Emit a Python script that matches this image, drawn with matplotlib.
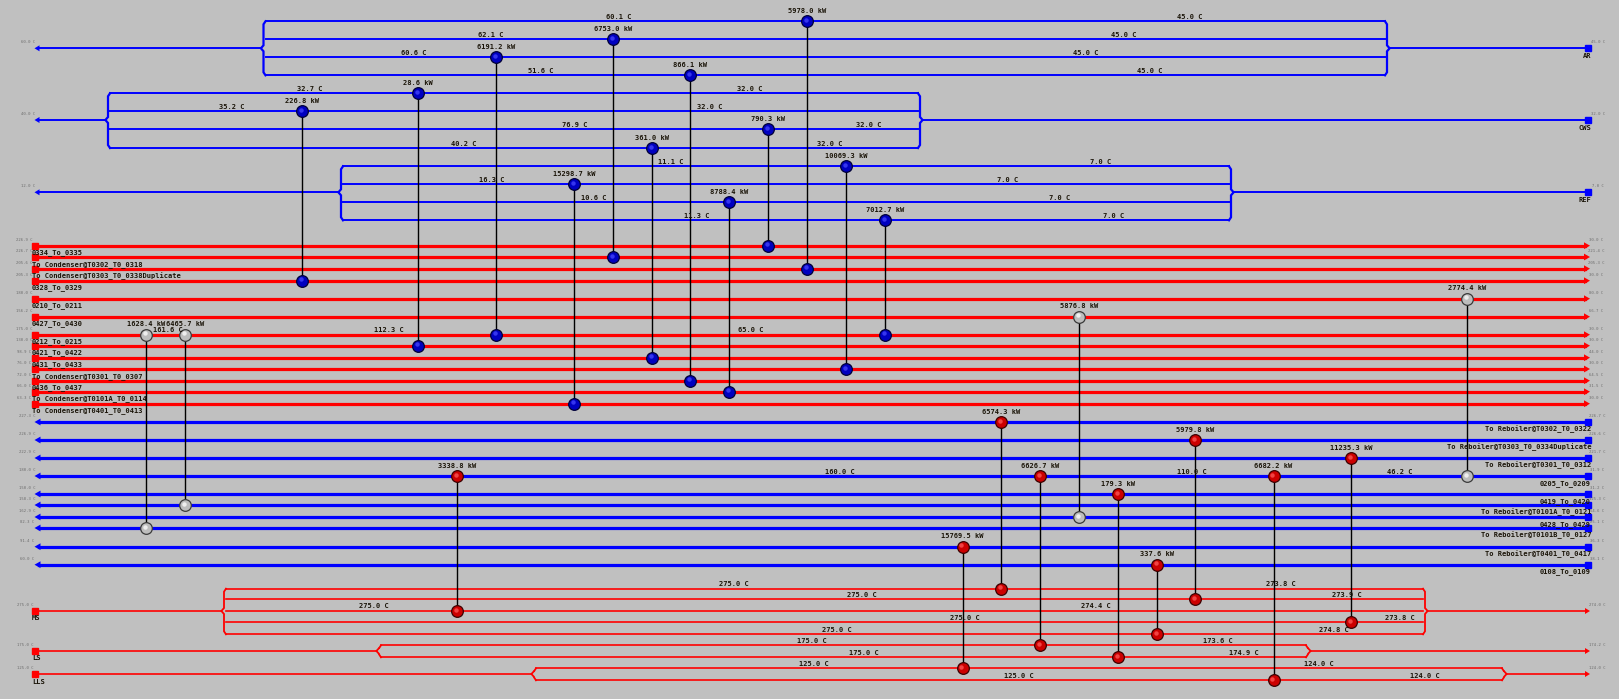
import matplotlib
matplotlib.use("Agg")
import matplotlib.pyplot as plt

BG = "#c0c0c0"
RED = "#ff0000"
BLUE = "#0000ff"
INK = "#1a1408"
GREY = "#6c6c6c"
FONT = "DejaVu Sans Mono"

# ---- data -------------------------------------------------------------
# hot process streams, top to bottom (supply on the left, target on the right)
hot_names = ["0334_To_0335", "To Condenser@T0302_T0_0318",
             "To Condenser@T0303_T0_0338Duplicate", "0328_To_0329",
             "0210_To_0211", "0427_To_0430", "0212_To_0215", "0421_To_0422",
             "0431_To_0433", "To Condenser@T0301_T0_0307", "0436_To_0437",
             "To Condenser@T0101A_T0_0114", "To Condenser@T0401_T0_0413"]
hot_supply = ["226.9 C", "226.7 C", "205.6 C", "205.3 C", "180.0 C", "156.2 C",
              "175.0 C", "130.0 C", "98.9 C", "76.0 C", "72.0 C", "66.0 C", "63.3 C"]
hot_target = ["30.0 C", "221.4 C", "205.3 C", "30.0 C", "80.0 C", "66.7 C",
              "30.0 C", "30.0 C", "44.0 C", "30.0 C", "64.5 C", "31.5 C", "30.0 C"]

# cold process streams, top to bottom (supply on the right, target on the left)
cold_names = ["To Reboiler@T0302_T0_0322", "To Reboiler@T0303_T0_0334Duplicate",
              "To Reboiler@T0301_T0_0312", "0205_To_0209", "0419_To_0420",
              "To Reboiler@T0101A_T0_0121", "0428_To_0429",
              "To Reboiler@T0101B_T0_0127", "To Reboiler@T0401_T0_0417",
              "0108_To_0109"]
cold_supply = ["226.7 C", "226.6 C", "221.7 C", "31.9 C", "31.2 C", "125.3 C",
               "54.6 C", "25.1 C", "36.3 C", "38.1 C"]
cold_target = ["227.3 C", "226.9 C", "222.9 C", "180.0 C", "150.0 C", "158.3 C",
               "162.9 C", "82.3 C", "91.4 C", "60.0 C"]

# utilities
cold_util_names = ["AR", "CWS", "REF"]
cold_util_supply = ["45.0 C", "32.0 C", "7.0 C"]
cold_util_target = ["60.0 C", "40.0 C", "12.0 C"]
hot_util_names = ["MS", "LS", "LLS"]
hot_util_supply = ["275.0 C", "175.0 C", "125.0 C"]
hot_util_target = ["274.0 C", "174.2 C", "124.0 C"]

# coolers, one per utility branch (branches top to bottom)
cooler_util = ["AR"] * 4 + ["CWS"] * 4 + ["REF"] * 4
cooler_hot = [2, 1, 6, 10, 7, 3, 0, 8, 9, 12, 11, 6]
cooler_duty = [5978.0, 6753.0, 6191.2, 866.1, 28.6, 226.8, 790.3, 361.0,
               10069.3, 15298.7, 8788.4, 7012.7]
cooler_outlet = ["60.1 C", "62.1 C", "60.6 C", "51.6 C", "32.7 C", "35.2 C",
                 "76.9 C", "40.2 C", "11.1 C", "16.3 C", "10.6 C", "11.3 C"]

# heaters, one per steam branch
heater_util = ["MS"] * 5 + ["LS"] * 2 + ["LLS"] * 2
heater_cold = [0, 1, 3, 2, 9, 3, 4, 8, 3]
heater_duty = [6574.3, 5979.8, 3338.8, 11235.3, 337.6, 6626.7, 179.3,
               15769.5, 6682.2]
heater_outlet = ["273.8 C", "273.9 C", "274.4 C", "273.8 C", "274.8 C",
                 "173.6 C", "174.9 C", "124.0 C", "124.0 C"]

# process to process exchangers
px_hot = [6, 6, 5, 4]
px_cold = [7, 5, 6, 3]
px_duty = [1628.4, 6465.7, 5876.8, 2774.4]

# intermediate temperatures
hot_mid_stream = [6, 6, 6]
hot_mid_temp = ["161.6 C", "112.3 C", "65.0 C"]
cold_mid_stream = [3, 3, 3]
cold_mid_temp = ["160.0 C", "110.0 C", "46.2 C"]

# ---- layout (pixels of the grid diagram) ------------------------------
W, H = 1619, 699
X_LEFT, X_RIGHT = 34.5, 1589.0
hot_row_y = [245.7, 257.0, 268.7, 280.7, 298.7, 316.7, 334.7, 345.7, 357.7,
             369.0, 380.7, 391.7, 403.7]
cold_row_y = [422.0, 440.0, 458.0, 476.0, 494.0, 505.0, 517.0, 528.0, 546.7,
              564.7]
util_main_y = {"AR": 48.3, "CWS": 120.0, "REF": 192.3,
               "MS": 611.0, "LS": 651.0, "LLS": 674.0}
util_branch_y = {"AR": [21.3, 39.3, 57.3, 75.3],
                 "CWS": [93.3, 111.3, 129.3, 148.0],
                 "REF": [166.3, 184.3, 202.3, 220.3],
                 "MS": [588.7, 599.3, 611.0, 622.3, 634.3],
                 "LS": [645.3, 657.3],
                 "LLS": [668.3, 680.3]}
util_split_x = {"AR": 263.5, "CWS": 108.0, "REF": 341.0,
                "MS": 224.0, "LS": 379.0, "LLS": 534.0}
util_merge_x = {"AR": 1387.0, "CWS": 920.0, "REF": 1231.0,
                "MS": 1425.0, "LS": 1308.0, "LLS": 1504.0}
cooler_x = [807, 613, 496, 690, 418, 302, 768, 652, 846, 574, 729, 885]
cooler_out_lx = [619, 491, 414, 541, 310, 232, 575, 464, 671, 492, 594, 697]
cooler_in_lx = [1190, 1124, 1086, 1150, 750, 710, 869, 830, 1101, 1008, 1060, 1114]
heater_x = [1001, 1195, 457, 1351, 1157, 1040, 1118, 962.5, 1273.5]
heater_in_lx = [734, 862, 374, 965, 837, 812, 864, 814, 1019]
heater_out_lx = [1281, 1347, 1096, 1400, 1334, 1218, 1244, 1319, 1425]
px_x = [146, 185, 1079, 1467]
hot_mid_x = [168, 389, 751]
cold_mid_x = [840, 1192, 1400]

NODE_STYLE = {"blue": ("#0000c0", "#000038", "#4848ff"),
              "red": ("#cc0000", "#3c0000", "#ff5a5a"),
              "white": ("#bdbdbd", "#3a3a3a", "#ffffff")}


def label(ax, x, y, s, ha="center", size=5.0, color=INK, weight="bold"):
    ax.text(x, y, s, fontsize=size, family=FONT, ha=ha, va="center",
            color=color, fontweight=weight, zorder=8)


def tiny(ax, x, y, s):
    label(ax, x, y, s, size=2.8, color=GREY, weight="normal")


def arrow_head(ax, x_tip, y, direction, color, length=6.0, half=3.2):
    back = x_tip - direction * length
    ax.fill([x_tip, back, back], [y, y - half, y + half], color=color,
            lw=0, zorder=3)


def square(ax, x, y, color):
    ax.plot(x, y, marker="s", ms=4.2, color=color, mec=color, zorder=4)


def brace(ax, x, ytop, ybot, ymid, color, lw, side):
    # side=+1 tip points left (split), side=-1 tip points right (merge)
    d = 2.0 * side
    k = min(3.0, (ymid - ytop) / 2) if ymid > ytop else 0.0
    xs = [x + d, x, x, x - 1.3 * d, x, x, x + d]
    ys = [ytop, ytop + 3, ymid - k, ymid, ymid + k, ybot - 3, ybot]
    ax.plot(xs, ys, color=color, lw=lw, zorder=2, solid_joinstyle="miter")


def node(ax, x, y, kind):
    face, edge, shine = NODE_STYLE[kind]
    ax.plot(x, y, "o", ms=8.4, mfc=face, mec=edge, mew=0.9, zorder=5)
    ax.plot(x - 1.3, y - 1.3, "o", ms=3.2, mfc=shine, mec="none",
            alpha=0.75, zorder=6)


fig = plt.figure(figsize=(W / 100, H / 100), dpi=100, facecolor=BG)
ax = fig.add_axes([0, 0, 1, 1])
ax.set_facecolor(BG)
ax.set_xlim(0, W)
ax.set_ylim(H, 0)
ax.axis("off")

# cold utilities: supplied on the right, leave on the left
for name, t_in, t_out in zip(cold_util_names, cold_util_supply, cold_util_target):
    ym = util_main_y[name]
    ys = util_branch_y[name]
    xs, xm = util_split_x[name], util_merge_x[name]
    ax.plot([X_LEFT + 4, xs - 2.6], [ym, ym], color=BLUE, lw=1.4, zorder=2)
    ax.plot([xm + 2.6, X_RIGHT - 1], [ym, ym], color=BLUE, lw=1.4, zorder=2)
    for yb in ys:
        ax.plot([xs + 2, xm - 2], [yb, yb], color=BLUE, lw=1.4, zorder=2)
    brace(ax, xs, ys[0], ys[-1], ym, BLUE, 1.6, 1)
    brace(ax, xm, ys[0], ys[-1], ym, BLUE, 1.6, -1)
    arrow_head(ax, X_LEFT, ym, -1, BLUE, 5.0, 3.0)
    square(ax, X_RIGHT - 1, ym, BLUE)
    tiny(ax, 28, ym - 6, t_out)
    tiny(ax, 1598, ym - 6, t_in)
    label(ax, 1591, ym + 7.5, name, ha="right")

# hot utilities: supplied on the left, leave on the right
for name, t_in, t_out in zip(hot_util_names, hot_util_supply, hot_util_target):
    ym = util_main_y[name]
    ys = util_branch_y[name]
    xs, xm = util_split_x[name], util_merge_x[name]
    ax.plot([X_LEFT, xs - 2.6], [ym, ym], color=RED, lw=1.2, zorder=2)
    ax.plot([xm + 2.6, X_RIGHT - 4], [ym, ym], color=RED, lw=1.2, zorder=2)
    for yb in ys:
        ax.plot([xs + 2, xm - 2], [yb, yb], color=RED, lw=1.2, zorder=2)
    brace(ax, xs, ys[0], ys[-1], ym, RED, 1.3, 1)
    brace(ax, xm, ys[0], ys[-1], ym, RED, 1.3, -1)
    arrow_head(ax, X_RIGHT + 1, ym, 1, RED, 5.0, 3.0)
    square(ax, X_LEFT, ym, RED)
    tiny(ax, 25, ym - 6, t_in)
    tiny(ax, 1597, ym - 6, t_out)
    label(ax, 32, ym + 7.5, name, ha="left")

# hot process streams
for name, y, t_in, t_out in zip(hot_names, hot_row_y, hot_supply, hot_target):
    ax.plot([X_LEFT, X_RIGHT - 4], [y, y], color=RED, lw=2.3, zorder=2)
    arrow_head(ax, X_RIGHT + 1, y, 1, RED, 6.0, 3.4)
    square(ax, X_LEFT, y, RED)
    tiny(ax, 24, y - 5.5, t_in)
    tiny(ax, 1596, y - 5.5, t_out)
    label(ax, 32, y + 7.3, name, ha="left")

# cold process streams
for name, y, t_in, t_out in zip(cold_names, cold_row_y, cold_supply, cold_target):
    ax.plot([X_LEFT + 4, X_RIGHT - 1], [y, y], color=BLUE, lw=2.3, zorder=2)
    arrow_head(ax, X_LEFT, y, -1, BLUE, 6.0, 3.4)
    square(ax, X_RIGHT - 1, y, BLUE)
    tiny(ax, 27, y - 6, t_out)
    tiny(ax, 1597, y - 6, t_in)
    label(ax, 1591, y + 7.3, name, ha="right")

# coolers (cold utility branch -> hot process stream)
branch_no = {}
for util, hot, duty, t_out, x, lx_out, lx_in in zip(
        cooler_util, cooler_hot, cooler_duty, cooler_outlet, cooler_x,
        cooler_out_lx, cooler_in_lx):
    k = branch_no.get(util, 0)
    branch_no[util] = k + 1
    yb = util_branch_y[util][k]
    yh = hot_row_y[hot]
    ax.plot([x, x], [yb, yh], color="black", lw=1.0, zorder=3)
    node(ax, x, yb, "blue")
    node(ax, x, yh, "blue")
    label(ax, x, yb - 10.5, f"{duty:.1f} kW")
    label(ax, lx_out, yb - 4.5, t_out)
    label(ax, lx_in, yb - 4.5, cold_util_supply[cold_util_names.index(util)])

# heaters (cold process stream -> steam branch)
for util, cold, duty, t_out, x, lx_in, lx_out in zip(
        heater_util, heater_cold, heater_duty, heater_outlet, heater_x,
        heater_in_lx, heater_out_lx):
    k = branch_no.get(util, 0)
    branch_no[util] = k + 1
    yb = util_branch_y[util][k]
    yc = cold_row_y[cold]
    ax.plot([x, x], [yc, yb], color="black", lw=1.0, zorder=3)
    node(ax, x, yc, "red")
    node(ax, x, yb, "red")
    label(ax, x, yc - 10.5, f"{duty:.1f} kW")
    label(ax, lx_in, yb - 4.5, hot_util_supply[hot_util_names.index(util)])
    label(ax, lx_out, yb - 4.5, t_out)

# process to process exchangers
for hot, cold, duty, x in zip(px_hot, px_cold, px_duty, px_x):
    yh, yc = hot_row_y[hot], cold_row_y[cold]
    ax.plot([x, x], [yh, yc], color="black", lw=1.0, zorder=3)
    node(ax, x, yh, "white")
    node(ax, x, yc, "white")
    label(ax, x, yh - 10.5, f"{duty:.1f} kW")

# intermediate temperatures
for s, t, x in zip(hot_mid_stream, hot_mid_temp, hot_mid_x):
    label(ax, x, hot_row_y[s] - 4.5, t)
for s, t, x in zip(cold_mid_stream, cold_mid_temp, cold_mid_x):
    label(ax, x, cold_row_y[s] - 4.5, t)

fig.savefig("out.png", dpi=100, facecolor=BG)
plt.close(fig)
